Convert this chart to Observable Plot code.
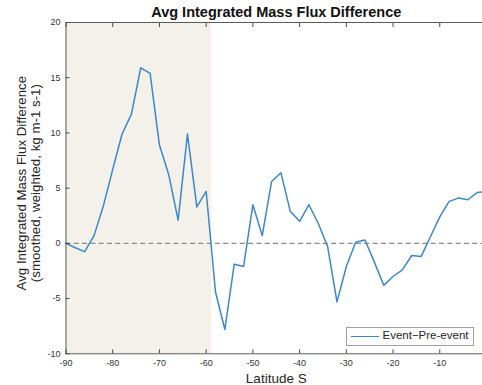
<!DOCTYPE html>
<html>
<head>
<meta charset="utf-8">
<script src="https://cdn.jsdelivr.net/npm/d3@7"></script>
<script src="https://cdn.jsdelivr.net/npm/@observablehq/plot@0.6"></script>
<style>
  html, body { margin: 0; padding: 0; background: #fff; overflow: hidden; width: 482px; height: 385px; }
  #wrap { position: relative; width: 482px; height: 385px; overflow: hidden; }
  #wrap svg { max-width: none !important; position: absolute; left: 0; top: 0; }
  #legend { position: absolute; left: 345.5px; top: 326.5px; width: 128px; height: 19px; box-sizing: border-box;
    border: 1px solid #a0a0a0; background: #fff; font-family: "Liberation Sans", Arial, sans-serif; font-size: 11.5px; color: #262626; z-index: 2; }
  #legend .sw { position: absolute; left: 4px; top: 8.5px; width: 28px; height: 0; border-top: 1.6px solid #3a87cc; }
  #legend .lb { position: absolute; left: 36px; top: 1.5px; white-space: nowrap; }
</style>
</head>
<body>
<div id="wrap"><div id="legend"><span class="sw"></span><span class="lb" id="legendLabel"></span></div></div>
<script>
const titleText = "Avg Integrated Mass Flux Difference";
const xLabel = "Latitude S";
const yLabel1 = "Avg Integrated Mass Flux Difference";
const yLabel2 = "(smoothed, weighted, kg m-1 s-1)";
const seriesName = "Event−Pre-event";

const latitude = [-90,-88,-86,-84,-82,-80,-78,-76,-74,-72,-70,-68,-66,-64,-62,-60,-58,-56,-54,-52,-50,-48,-46,-44,-42,-40,-38,-36,-34,-32,-30,-28,-26,-24,-22,-20,-18,-16,-14,-12,-10,-8,-6,-4,-2,0];
const difference = [0.0,-0.4,-0.75,0.7,3.4,6.7,9.9,11.7,15.9,15.4,8.9,6.2,2.1,9.9,3.3,4.7,-4.4,-7.8,-1.9,-2.1,3.5,0.7,5.6,6.4,2.9,2.0,3.5,1.8,-0.3,-5.3,-2.1,0.1,0.3,-1.7,-3.8,-3.0,-2.4,-1.1,-1.2,0.6,2.4,3.8,4.1,3.95,4.6,4.7];
const xTicks = [-90,-80,-70,-60,-50,-40,-30,-20,-10];
const yTicks = [-10,-5,0,5,10,15,20];
const shadedRegion = [-90, -58.8];
const xDomain = [-90, 0];
const yDomain = [-10, 20];

document.getElementById("legendLabel").textContent = seriesName;

const data = latitude.map((lat, i) => ({lat, val: difference[i]}));
const font = "Liberation Sans, Arial, sans-serif";
const axisColor = "#4a4a4a";

const chart = Plot.plot({
  width: 490, height: 385,
  marginLeft: 65.5, marginRight: 4, marginTop: 22, marginBottom: 31.7,
  style: {fontFamily: font, background: "transparent", overflow: "visible", maxWidth: "none"},
  x: {domain: xDomain},
  y: {domain: yDomain},
  marks: [
    Plot.rect([{x1: shadedRegion[0], x2: shadedRegion[1]}], {x1: "x1", x2: "x2", y1: yDomain[0], y2: yDomain[1], fill: "#f3f1ea"}),
    Plot.ruleY([0], {stroke: "#8a8a8a", strokeWidth: 1.1, strokeDasharray: "5,3.3"}),
    Plot.line(data, {x: "lat", y: "val", stroke: "#3a87cc", strokeWidth: 1.5}),
    Plot.frame({stroke: axisColor, strokeWidth: 0.9}),
    Plot.axisX(xTicks, {anchor: "bottom", tickSize: -4, tickPadding: 9.5, stroke: axisColor, fill: "#333", fontSize: 9, tickFormat: d => String(d), label: null}),
    Plot.axisX(xTicks, {anchor: "top", tickSize: -4, stroke: axisColor, tickFormat: () => "", label: null}),
    Plot.axisY(yTicks, {anchor: "left", tickSize: -4, tickPadding: 9.5, stroke: axisColor, fill: "#333", fontSize: 9, tickFormat: d => String(d), label: null}),
    Plot.text([titleText], {frameAnchor: "top", lineAnchor: "bottom", dy: -5.5, text: d => d, fontSize: 14.5, fontWeight: "bold", fill: "#111"}),
    Plot.text([xLabel], {frameAnchor: "bottom", lineAnchor: "bottom", dy: 29, text: d => d, fontSize: 13.5, fill: "#262626"}),
    Plot.text([yLabel1], {frameAnchor: "left", lineAnchor: "bottom", textAnchor: "middle", dx: -40, dy: -5, rotate: -90, text: d => d, fontSize: 13.3, fill: "#262626"}),
    Plot.text([yLabel2], {frameAnchor: "left", lineAnchor: "bottom", textAnchor: "middle", dx: -26.5, dy: -5, rotate: -90, text: d => d, fontSize: 13.3, fill: "#262626"})
  ]
});
document.getElementById("wrap").prepend(chart);
</script>
</body>
</html>
